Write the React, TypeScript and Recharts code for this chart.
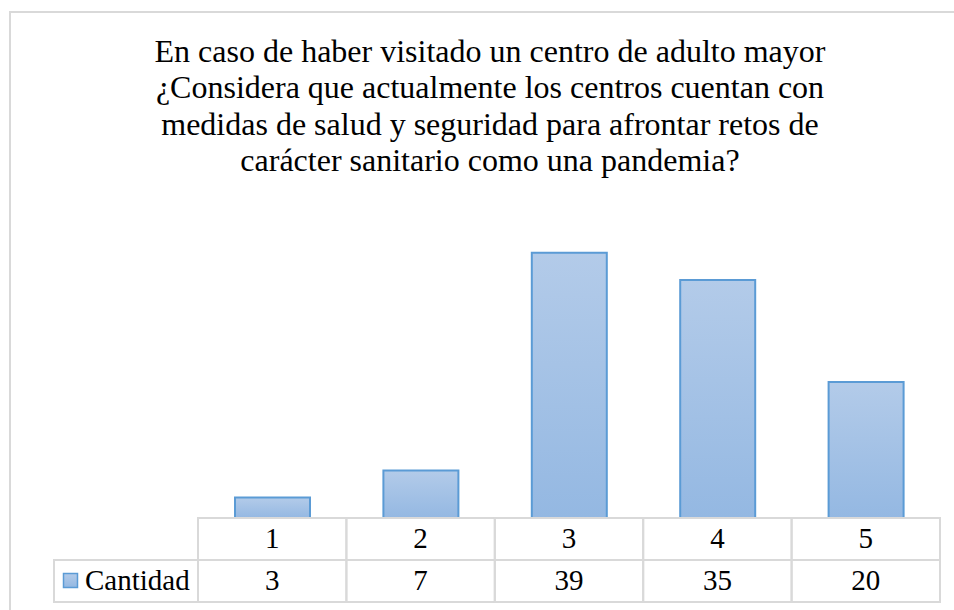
import { Bar, BarChart, XAxis, YAxis } from "recharts";

const categories = ["1", "2", "3", "4", "5"];
const cantidad = [3, 7, 39, 35, 20];
const seriesName = "Cantidad";
const titleLines = [
  "En caso de haber visitado un centro de adulto mayor",
  "¿Considera que actualmente los centros cuentan con",
  "medidas de salud y seguridad para afrontar retos de",
  "carácter sanitario como una pandemia?",
];

const data = categories.map((c, i) => ({ name: c, value: cantidad[i] }));

const W = 954;
const H = 610;
const LEFT = 198;
const RIGHT = 940;
const ROW = 42;
const COL = (RIGHT - LEFT) / categories.length;
const GRID = "#d9d9d9";
const FONT = "'Liberation Serif', 'Times New Roman', serif";

// data table drawn under the plot, one column per category tick
function TableTick(props: any) {
  const { x, y, payload } = props;
  const idx = payload.index;
  const top = y;
  return (
    <g>
      {idx === 0 && (
        <g>
          <rect x={54} y={top + ROW} width={LEFT - 54} height={ROW} fill="none" stroke={GRID} strokeWidth={2} />
          <rect x={63.5} y={top + ROW + 13.5} width={14} height={14} fill="url(#barFill)" stroke="#5b9bd5" strokeWidth={1.5} />
          <text x={85} y={top + ROW + 30} fontSize={29} fontFamily={FONT} fill="#000">
            {seriesName}
          </text>
        </g>
      )}
      <rect x={x - COL / 2} y={top} width={COL} height={ROW} fill="none" stroke={GRID} strokeWidth={2} />
      <rect x={x - COL / 2} y={top + ROW} width={COL} height={ROW} fill="none" stroke={GRID} strokeWidth={2} />
      <text x={x} y={top + 30} textAnchor="middle" fontSize={29} fontFamily={FONT} fill="#000">
        {payload.value}
      </text>
      <text x={x} y={top + ROW + 30} textAnchor="middle" fontSize={29} fontFamily={FONT} fill="#000">
        {cantidad[idx]}
      </text>
    </g>
  );
}

export default function App() {
  return (
    <div style={{ position: "absolute", left: 0, top: 0, width: W, height: H, background: "#fff", overflow: "hidden" }}>
      <div
        style={{
          position: "absolute",
          left: 9,
          top: 11,
          width: W,
          height: H,
          borderTop: `2px solid ${GRID}`,
          borderLeft: `2px solid ${GRID}`,
          boxSizing: "border-box",
        }}
      />
      <div
        style={{
          position: "absolute",
          left: 40,
          top: 33,
          width: 900,
          textAlign: "center",
          fontFamily: FONT,
          fontSize: 32,
          lineHeight: "36.3px",
          color: "#000",
        }}
      >
        {titleLines.map((l) => (
          <div key={l} style={{ whiteSpace: "nowrap" }}>{l}</div>
        ))}
      </div>
      <div style={{ position: "absolute", left: 0, top: 0 }}>
        <BarChart
          width={W}
          height={H}
          data={data}
          margin={{ top: 212, right: W - RIGHT, left: LEFT, bottom: 8 }}
          barSize={75}
        >
          <defs>
            <linearGradient id="barFill" x1="0" y1="0" x2="0" y2="1">
              <stop offset="0%" stopColor="#b3cbe9" />
              <stop offset="100%" stopColor="#94b8e2" />
            </linearGradient>
          </defs>
          <XAxis
            dataKey="name"
            axisLine={false}
            tickLine={false}
            tickSize={0}
            tickMargin={0}
            height={84}
            interval={0}
            tick={<TableTick />}
          />
          <YAxis hide domain={[0, 45]} />
          <Bar dataKey="value" fill="url(#barFill)" stroke="#5b9bd5" strokeWidth={2} isAnimationActive={false} />
        </BarChart>
      </div>
    </div>
  );
}
